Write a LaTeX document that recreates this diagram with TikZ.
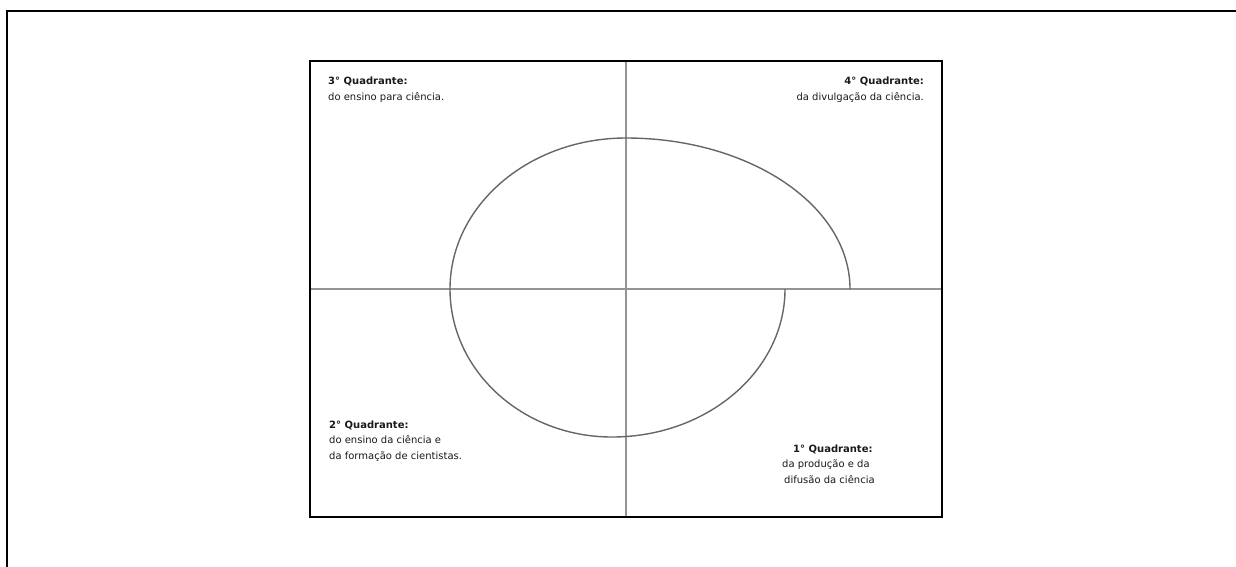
\documentclass[tikz,border=0pt]{standalone}
\usepackage{fontspec}
\setmainfont{DejaVu Sans}
\begin{document}
\begin{tikzpicture}[x=1pt,y=-1pt,
  frame/.style={line width=2.4pt,black},
  box/.style={line width=2pt,black},
  axis/.style={line width=2pt,color=black!42},
  spiral/.style={line width=1.4pt,color=black!60},
  label/.style={inner sep=0pt,font=\fontsize{10}{15.5}\selectfont,text=black!90}]
\useasboundingbox (0,0) rectangle (1236,566);
% outer frame
\draw[frame] (7,580) -- (7,11) -- (1250,11);
% axes
\draw[axis] (626,61) -- (626,517);
\draw[axis] (310,289) -- (942,289);
% inner box
\draw[box] (310,61) rectangle (942,517);
% spiral
\draw[spiral] (785,289)
  arc[start angle=0,end angle=90,x radius=173,y radius=148]
  arc[start angle=90,end angle=180,x radius=162,y radius=148]
  arc[start angle=180,end angle=270,x radius=176,y radius=151]
  arc[start angle=270,end angle=360,x radius=224,y radius=151];
% labels (base anchor = baseline of the last line)
\node[label,anchor=base west,align=left] (q3) at (328,100)
  {\textbf{3° Quadrante:}\\do ensino para ciência.};
\node[label,anchor=base east,align=right] (q4) at (924,100)
  {\textbf{4° Quadrante:}\\da divulgação da ciência.};
\node[label,anchor=base west,align=left] (q2) at (329,459)
  {\textbf{2° Quadrante:}\\do ensino da ciência e\\da formação de cientistas.};
\node[label,anchor=base west,align=left] (q1) at (782,483)
  {\hspace*{11pt}\textbf{1° Quadrante:}\\da produção e da\\\hspace*{2pt}difusão da ciência};
\end{tikzpicture}
\end{document}
